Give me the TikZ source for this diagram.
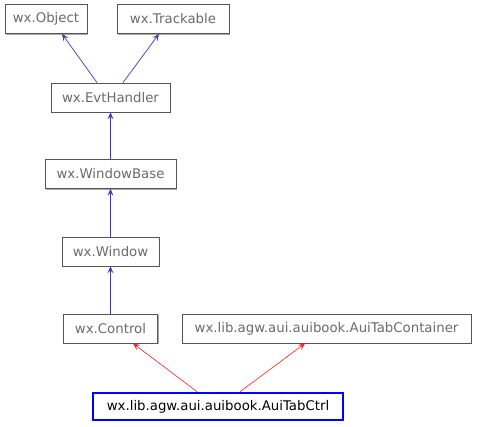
\documentclass[tikz,border=0pt]{standalone}
\usepackage{fontspec}
\setmainfont{DejaVu Sans}
\usetikzlibrary{arrows.meta,shadows}
\definecolor{boxline}{HTML}{555555}
\definecolor{boxtext}{HTML}{6B6B6B}
\definecolor{shade}{HTML}{A8A8A8}
\definecolor{inherit}{HTML}{3C3CAA}
\definecolor{usedby}{HTML}{FF2020}
\begin{document}
\begin{tikzpicture}[x=1pt,y=-1pt,every node/.style={font=\fontsize{13.3}{15}\selectfont,text=boxtext},cls/.style={draw=boxline,fill=white,line width=.8pt,inner sep=0pt,minimum height=29pt,drop shadow={shadow xshift=1.3pt,shadow yshift=-1.3pt,fill=shade,opacity=1}},focus/.style={draw=blue,fill=white,line width=2.6pt,inner sep=0pt,minimum height=27pt,text=black},base/.style={inherit,line width=.7pt,-{Stealth[length=7pt,width=6pt,inset=3pt]}},link/.style={usedby,line width=.6pt,-{Stealth[length=7pt,width=6pt,inset=3pt]}}]
\useasboundingbox[fill=white] (0,0) rectangle (477,427);
\node[cls,minimum width=82pt] (object) at (46,19){wx.Object};
\node[cls,minimum width=112pt] (trackable) at (173,19){wx.Trackable};
\node[cls,minimum width=119pt] (evthandler) at (110.5,97.5){wx.EvtHandler};
\node[cls,minimum width=131pt] (windowbase) at (110.5,174){wx.WindowBase};
\node[cls,minimum width=97pt] (window) at (110.5,251.5){wx.Window};
\node[cls,minimum width=94pt] (control) at (110.5,328.5){wx.Control};
\node[cls,minimum width=289pt] (container) at (326.5,328.5){wx.lib.agw.aui.auibook.AuiTabContainer};
\node[focus,minimum width=250pt] (tabctrl) at (218,406.5){wx.lib.agw.aui.auibook.AuiTabCtrl};
\draw[base] (evthandler.north -| 97,0)--(object.south -| 62,0);\draw[base] (evthandler.north -| 123,0)--(trackable.south -| 159,0);
\draw[base] (windowbase)--(evthandler);\draw[base] (window)--(windowbase);\draw[base] (control)--(window);
\draw[link] (tabctrl.north -| 197,0)--(control.south -| 133,0);\draw[link] (tabctrl.north -| 240,0)--(container.south -| 305,0);
\end{tikzpicture}
\end{document}
